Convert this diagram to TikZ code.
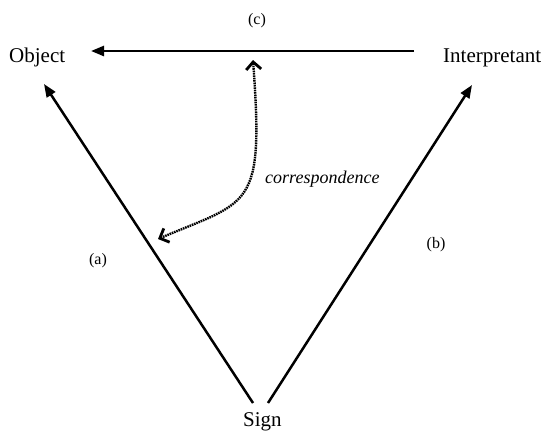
\documentclass[tikz,border=0pt]{standalone}
\usepackage{fontspec}
\setmainfont{Liberation Serif}
\usetikzlibrary{arrows.meta}
\begin{document}
\begin{tikzpicture}[x=1pt,y=-1pt,
  mainlabel/.style={inner sep=0pt,font=\fontsize{21}{24}\selectfont},
  smalllabel/.style={inner sep=0pt,font=\fontsize{16}{19}\selectfont},
  corrlabel/.style={inner sep=0pt,font=\fontsize{18}{21}\selectfont\itshape},
  solidarrow/.style={line width=2.5pt,-{Triangle[length=13pt,width=10pt]}},
  chev/.tip={Straight Barb[length=7.5pt,width=15pt,line width=2.8pt]},
  dottedarrow/.style={line width=2.4pt,dash pattern=on 1.6pt off 0.8pt,chev-chev}
]
\useasboundingbox (0,0) rectangle (543,431);
% texts
\node[mainlabel,anchor=base west] (obj) at (9,62) {Object};
\node[mainlabel,anchor=base west] (int) at (443,62) {Interpretant};
\node[mainlabel,anchor=base west] (sign) at (243,426) {Sign};
\node[smalllabel,anchor=base] (lc) at (257,24) {(c)};
\node[smalllabel,anchor=base] (la) at (98,264) {(a)};
\node[smalllabel,anchor=base] (lb) at (436,248) {(b)};
\node[corrlabel,anchor=base west] (corr) at (265,183.5) {correspondence};
% connector ends
\coordinate (sL) at (253,403);
\coordinate (sR) at (268,403);
\coordinate (oT) at (44,84);
\coordinate (iT) at (472,85);
\coordinate (topR) at (414,51);
\coordinate (topL) at (91,51);
\coordinate (cTop) at (253,60);
\coordinate (cBot) at (158,239);
% connectors
\draw[solidarrow] (sL) -- (oT);
\draw[solidarrow] (sR) -- (iT);
\draw[solidarrow] (topR) -- (topL);
\draw[dottedarrow] (cTop) .. controls (264,210) and (250,200) .. (cBot);
\end{tikzpicture}
\end{document}
